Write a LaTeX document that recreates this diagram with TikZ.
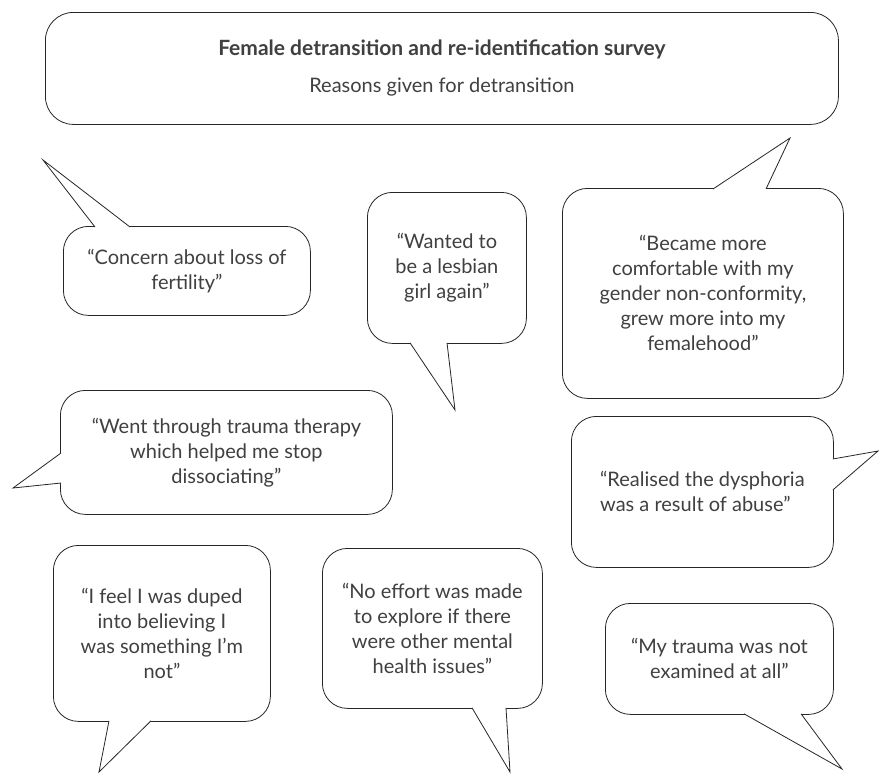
\documentclass[tikz,border=0pt]{standalone}
\usepackage{fontspec}
\setmainfont{Lato}
\usetikzlibrary{calc}

\tikzset{
  bubble/.style={draw=black!85, line width=0.8pt, fill=white, rounded corners=25pt,
    inner sep=0pt, align=center, anchor=north west, text=black!75,
    font=\fontsize{20}{25}\selectfont},
  tail/.style={draw=black!85, line width=0.8pt, fill=white, line join=miter}
}

\begin{document}
\begin{tikzpicture}[x=1pt,y=-1pt]
  \useasboundingbox (0,0) rectangle (880,774);

  % heading
  \node[bubble, rounded corners=28pt, minimum width=793pt, minimum height=112pt] (head) at (45,12)
    {{\fontsize{21}{25}\selectfont\bfseries Female detransition and re-identification survey}\\[12pt]Reasons given for detransition};

  % quotes
  \node[bubble, minimum width=247pt, minimum height=89pt] (fertility) at (63,226)
    {“Concern about loss of\\fertility”};
  \node[bubble, minimum width=159pt, minimum height=151pt] (lesbian) at (367,192)
    {“Wanted to\\be a lesbian\\girl again”};
  \node[bubble, minimum width=281pt, minimum height=210pt] (female) at (562,188)
    {“Became more\\comfortable with my\\gender non-conformity,\\grew more into my\\femalehood”};
  \node[bubble, minimum width=332pt, minimum height=124pt] (therapy) at (60,390)
    {“Went through trauma therapy\\which helped me stop\\dissociating”};
  \node[bubble, align=left, minimum width=262pt, minimum height=151pt] (abuse) at (571,416)
    {“Realised the dysphoria\\was a result of abuse”};
  \node[bubble, minimum width=217pt, minimum height=176pt] (duped) at (53,545)
    {“I feel I was duped\\into believing I\\was something I’m\\not”};
  \node[bubble, minimum width=220pt, minimum height=160pt] (effort) at (322,548)
    {“No effort was made\\to explore if there\\were other mental\\health issues”};
  \node[bubble, minimum width=228pt, minimum height=111pt] (trauma) at (605,603)
    {“My trauma was not\\examined at all”};

  % tails
  \coordinate (fertility-tip) at (43,160);
  \coordinate (lesbian-tip) at (455,410);
  \coordinate (female-tip) at (790,138);
  \coordinate (therapy-tip) at (13,488);
  \coordinate (abuse-tip) at (878,451);
  \coordinate (duped-tip) at (99,772);
  \coordinate (effort-tip) at (510,772);
  \coordinate (trauma-tip) at (842,769);

  \path[tail] ([xshift=32pt,yshift=-1pt]fertility.north west) -- (fertility-tip)
    -- ([xshift=67pt,yshift=-1pt]fertility.north west);
  \path[tail] ([xshift=43pt,yshift=1pt]lesbian.south west) -- (lesbian-tip)
    -- ([xshift=80pt,yshift=1pt]lesbian.south west);
  \path[tail] ([xshift=151pt,yshift=-1pt]female.north west) -- (female-tip)
    -- ([xshift=204pt,yshift=-1pt]female.north west);
  \path[tail] ([xshift=1pt,yshift=-63pt]therapy.north west) -- (therapy-tip)
    -- ([xshift=1pt,yshift=-93pt]therapy.north west);
  \path[tail] ([xshift=-1pt,yshift=-43pt]abuse.north east) -- (abuse-tip)
    -- ([xshift=-1pt,yshift=-74pt]abuse.north east);
  \path[tail] ([xshift=56pt,yshift=1pt]duped.south west) -- (duped-tip)
    -- ([xshift=98pt,yshift=1pt]duped.south west);
  \path[tail] ([xshift=150pt,yshift=1pt]effort.south west) -- (effort-tip)
    -- ([xshift=184pt,yshift=1pt]effort.south west);
  \path[tail] ([xshift=139pt,yshift=1pt]trauma.south west) -- (trauma-tip)
    -- ([xshift=196pt,yshift=1pt]trauma.south west);
\end{tikzpicture}
\end{document}
